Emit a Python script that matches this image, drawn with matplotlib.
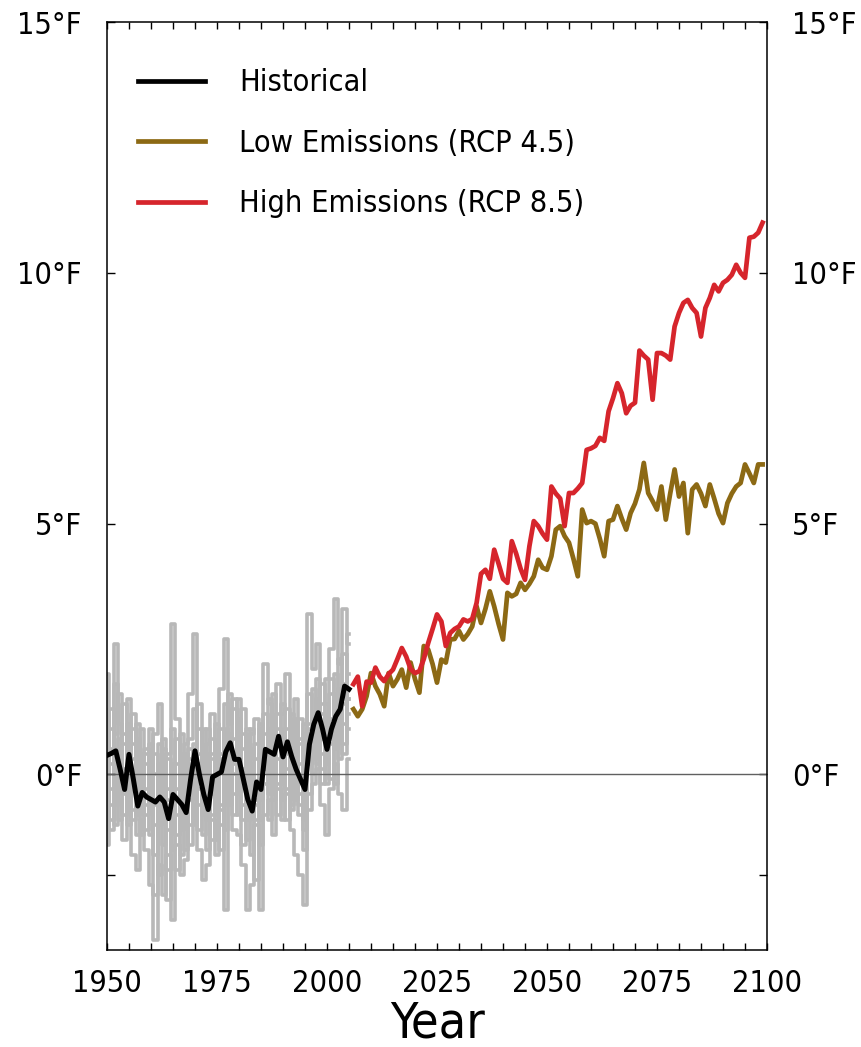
import numpy as np
import matplotlib
matplotlib.use("Agg")
import matplotlib.pyplot as plt
from matplotlib.ticker import MultipleLocator
from matplotlib.lines import Line2D

plt.rcParams['font.family'] = ['DejaVu Sans']
plt.rcParams['font.stretch'] = 'condensed'

# historical period, annual values in deg F
hist_years = np.arange(1950, 2006)
hist_mean = [0.38, 0.42, 0.47, 0.10, -0.30, 0.40, -0.10, -0.63, -0.36, -0.45,
             -0.50, -0.55, -0.45, -0.55, -0.88, -0.40, -0.50, -0.60, -0.76, -0.10,
             0.47, 0.00, -0.40, -0.70, -0.05, 0.00, 0.05, 0.45, 0.63, 0.30,
             0.30, -0.10, -0.50, -0.73, -0.15, -0.30, 0.50, 0.45, 0.40, 0.76,
             0.35, 0.65, 0.35, 0.10, -0.10, -0.30, 0.60, 1.00, 1.23, 0.90,
             0.50, 0.90, 1.16, 1.30, 1.76, 1.70]

# individual model runs (grey)
run1 = [1.2, 0.5, 2.6, 1.0, -0.4, 1.5, 0.3, -0.8, 0.9, 0.2,
        -0.3, 0.8, 1.4, -0.6, 0.4, 3.0, 1.1, -0.2, 0.6, 1.6,
        2.8, 0.9, -0.5, 0.6, 1.2, 0.4, 1.7, 2.7, 1.0, 1.5,
        0.6, 1.3, -0.2, 0.8, 1.1, 0.3, 2.2, 1.4, 0.9, 1.8,
        1.2, 2.0, 0.8, 1.5, 0.6, 1.0, 3.2, 2.1, 2.6, 1.4,
        1.9, 2.5, 3.5, 2.2, 3.3, 2.6]
run2 = [-1.4, -0.6, -1.0, -0.2, -1.3, -0.5, -1.6, -1.9, -0.9, -1.5,
        -2.2, -3.3, -1.8, -2.4, -1.6, -2.9, -1.4, -2.0, -1.7, -1.0,
        -0.6, -1.5, -2.1, -1.8, -0.9, -1.3, -0.7, -2.7, -0.4, -1.1,
        -1.2, -1.8, -2.7, -2.2, -1.0, -2.7, -0.8, -0.5, -1.2, -0.3,
        -0.9, -0.4, -1.1, -1.6, -2.0, -2.6, -0.7, -0.2, 0.1, -0.6,
        -1.2, -0.3, 0.2, -0.4, -0.7, 0.3]
run3 = [0.9, -0.3, 1.8, 0.4, 0.8, -0.6, 0.6, 0.2, -1.2, 0.5,
        0.3, -1.0, 0.2, -1.4, -0.5, 0.9, -1.2, 0.4, -1.5, 0.7,
        1.3, -0.6, 0.5, -1.5, 0.7, -0.8, 0.9, 0.2, 1.6, -0.4,
        1.1, -0.9, 0.4, -1.6, 0.6, 0.9, -0.2, 1.5, 0.2, 1.2,
        -0.2, 1.3, 0.1, 0.8, -0.8, 0.5, 1.6, 0.6, 1.9, 0.4,
        1.4, 0.6, 2.0, 1.1, 2.4, 1.5]
run4 = [-0.5, 1.3, 0.1, -0.9, 0.6, 1.0, -0.7, 0.3, -0.2, -1.1,
        0.6, -1.6, -0.4, 0.5, -1.9, -0.3, 0.7, -1.1, 0.1, -0.5,
        0.2, 1.4, -1.2, -0.3, -0.8, 1.0, -0.6, 0.9, 0.1, 1.3,
        -0.4, 0.5, -1.3, -0.1, -0.9, 0.4, 1.2, -0.4, 1.6, 0.3,
        1.4, -0.3, 1.2, -0.5, 0.7, -1.1, 0.2, 1.7, 0.5, 1.8,
        0.2, 1.6, 0.9, 2.3, 1.0, 2.8]
run5 = [2.0, -0.9, 0.8, 1.6, -0.1, -1.0, 1.2, -0.4, 0.4, -0.8,
        0.9, 0.0, -1.0, 0.7, -2.5, 0.2, -0.8, 0.8, -1.0, 0.3,
        -0.4, 0.4, 0.9, -0.9, 0.3, -1.6, 0.4, -0.6, 0.8, 0.2,
        1.5, -0.6, 0.9, -0.7, -2.1, 1.0, 0.1, 0.8, -0.5, 0.6,
        0.3, 0.9, -0.7, 1.1, 0.2, 0.8, -0.4, 1.1, 1.5, -0.2,
        0.8, 1.9, 0.5, 1.7, 0.4, 1.2]
run6 = [0.2, 0.9, -0.6, 0.7, 1.4, 0.1, -0.3, 1.0, -0.6, 0.4,
        -1.2, 0.4, -2.0, -0.2, 0.3, -1.5, 0.2, -0.5, 0.4, -1.4,
        0.6, -1.1, 0.3, 0.4, -1.3, 0.6, -1.0, 1.4, -0.6, 0.7,
        -0.3, 0.8, 0.2, 0.5, -0.5, -0.9, 0.8, 0.0, 0.5, -0.8,
        0.7, -0.9, 0.4, -0.2, 1.1, 0.3, 1.0, 0.0, 0.6, 1.2,
        -0.2, 1.1, 1.3, 0.7, 1.8, 0.9]
run7 = [-0.9, 0.2, 0.5, -0.5, -0.8, 0.6, 0.9, -1.2, 0.1, -0.3,
        -0.7, -2.4, 0.6, -0.9, -1.1, -0.8, -0.3, -1.6, -0.6, 0.5,
        -1.0, 0.2, -0.3, 0.9, -0.4, 0.1, -1.5, 0.5, 0.3, -0.8,
        0.4, -1.4, -0.6, 0.9, 0.3, -1.4, 0.5, 0.9, -0.4, 0.9,
        -0.5, 0.4, -0.3, 0.4, -0.6, -0.9, 0.4, 0.9, 0.2, 0.7,
        0.9, -0.1, 1.6, 0.3, 1.4, 2.0]
run8 = [0.6, -1.1, -0.3, 0.2, 0.1, -0.2, -0.9, 0.7, 0.3, -0.6,
        0.1, -0.6, -0.9, 0.2, -0.3, -0.6, -1.9, 0.1, -0.9, -0.2,
        -0.2, -0.3, -0.8, -0.5, 0.4, -0.4, 0.3, -1.1, 0.6, 0.0,
        -0.8, 0.1, -0.9, 0.2, -0.6, -0.5, 0.2, -0.9, 0.8, -0.2,
        0.5, 0.1, -0.6, 0.0, -0.4, -1.5, 0.9, 0.3, 1.0, 0.1,
        0.4, 0.8, -0.2, 1.4, 0.6, 1.5]
runs = [run1, run2, run3, run4, run5, run6, run7, run8]

# projections 2006-2099
proj_years = np.arange(2006, 2100)
rcp45 = [1.30, 1.16, 1.30, 1.56, 2.02, 1.76, 1.60, 1.36, 2.02, 1.76,
         1.90, 2.09, 1.73, 2.23, 1.90, 1.63, 2.56, 2.49, 2.20, 1.83,
         2.29, 2.23, 2.69, 2.70, 2.86, 2.69, 2.80, 2.95, 3.35, 3.02,
         3.30, 3.65, 3.35, 3.00, 2.69, 3.62, 3.55, 3.60, 3.82, 3.68,
         3.80, 3.95, 4.28, 4.12, 4.08, 4.35, 4.88, 4.95, 4.75, 4.62,
         4.30, 3.95, 5.28, 5.01, 5.05, 5.00, 4.70, 4.35, 5.05, 5.08,
         5.35, 5.10, 4.88, 5.21, 5.40, 5.68, 6.21, 5.61, 5.45, 5.28,
         5.74, 5.08, 5.60, 6.08, 5.54, 5.81, 4.81, 5.68, 5.78, 5.60,
         5.35, 5.78, 5.50, 5.20, 5.01, 5.41, 5.60, 5.74, 5.81, 6.18,
         6.00, 5.81, 6.18, 6.18]
rcp85 = [1.80, 1.95, 1.36, 1.85, 1.83, 2.13, 1.95, 1.86, 2.00, 2.09,
         2.30, 2.52, 2.35, 2.10, 2.02, 2.06, 2.30, 2.62, 2.90, 3.19,
         3.05, 2.56, 2.82, 2.90, 2.95, 3.09, 3.05, 3.10, 3.42, 4.00,
         4.08, 3.90, 4.48, 4.20, 3.90, 3.82, 4.65, 4.40, 4.10, 3.88,
         4.55, 5.05, 4.95, 4.80, 4.68, 5.74, 5.60, 5.50, 4.95, 5.61,
         5.61, 5.70, 5.81, 6.47, 6.50, 6.55, 6.71, 6.65, 7.24, 7.50,
         7.80, 7.60, 7.20, 7.35, 7.41, 8.45, 8.35, 8.27, 7.47, 8.40,
         8.40, 8.35, 8.27, 8.93, 9.20, 9.40, 9.46, 9.30, 9.20, 8.73,
         9.30, 9.50, 9.76, 9.63, 9.80, 9.86, 9.96, 10.16, 10.00, 9.90,
         10.70, 10.72, 10.80, 11.00]

ytick_vals = [-2, 0, 5, 10, 15]
ytick_labels = ['', '0°F', '5°F', '10°F', '15°F']
xtick_vals = [1950, 1975, 2000, 2025, 2050, 2075, 2100]

fig = plt.figure(figsize=(8.61, 10.47), dpi=100)
ax = fig.add_axes([107/861, 1 - 950/1047, 660/861, 928/1047])

for r in runs:
    ax.step(hist_years, r, where='mid', color='#b8b8b8', lw=2.6, zorder=1)
ax.axhline(0, color='#606060', lw=1, zorder=2)
ax.plot(hist_years, hist_mean, color='black', lw=3.6, zorder=4)
ax.plot(proj_years, rcp45, color='#8c6914', lw=3.4, zorder=3)
ax.plot(proj_years, rcp85, color='#d6252c', lw=3.4, zorder=3)

ax.set_xlim(1950, 2100)
ax.set_ylim(-3.5, 15)
ax.set_xticks(xtick_vals)
ax.xaxis.set_minor_locator(MultipleLocator(5))
ax.set_yticks(ytick_vals)
ax.set_yticklabels(ytick_labels)
ax.tick_params(axis='x', which='both', direction='in', top=True, bottom=True,
               length=5, width=1, labelsize=22, pad=14)
ax.tick_params(axis='y', which='both', direction='in', left=True, right=True,
               labelleft=True, labelright=True, length=6, width=1,
               labelsize=22, pad=18)
for s in ax.spines.values():
    s.set_linewidth(1.1)
ax.set_xlabel('Year', fontsize=36, labelpad=1)

handles = [Line2D([], [], color='black', lw=3.4),
           Line2D([], [], color='#8c6914', lw=3.4),
           Line2D([], [], color='#d6252c', lw=3.4)]
ax.legend(handles, ['Historical', 'Low Emissions (RCP 4.5)', 'High Emissions (RCP 8.5)'],
          loc='upper left', bbox_to_anchor=(0.047, 0.950), frameon=False,
          fontsize=22, handlelength=2.2, handletextpad=1.1, labelspacing=1.03,
          borderaxespad=0, borderpad=0)

fig.savefig('out.png', dpi=100)
